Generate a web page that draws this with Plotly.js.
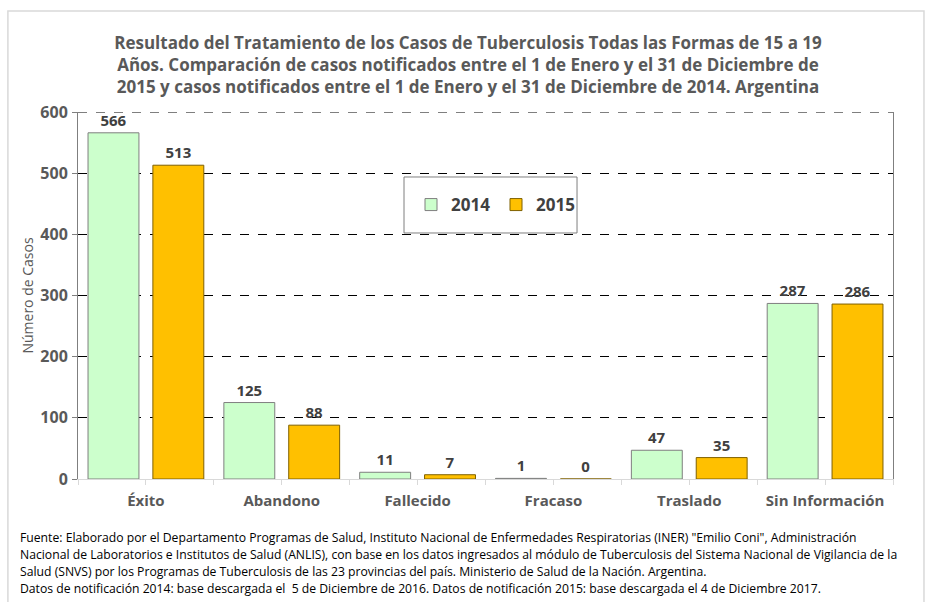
<!DOCTYPE html>
<html>
<head>
<meta charset="utf-8">
<script src="https://cdn.plot.ly/plotly-3.0.1.min.js"></script>
<style>
  body { margin: 0; background: #fff; }
  #plotArea { width: 936px; height: 602px; }
</style>
</head>
<body>
<div id="plotArea"></div>
<script>
var categories = ["Éxito", "Abandono", "Fallecido", "Fracaso", "Traslado", "Sin Información"];
var casos2014 = [566, 125, 11, 1, 47, 287];
var casos2015 = [513, 88, 7, 0, 35, 286];
var yTicks = [0, 100, 200, 300, 400, 500, 600];

var fuenteLines = [
    "Fuente: Elaborado por el Departamento Programas de Salud, Instituto Nacional de Enfermedades Respiratorias (INER) \"Emilio Coni\", Administración",
    "Nacional de Laboratorios e Institutos de Salud (ANLIS), con base en los datos ingresados al módulo de Tuberculosis del Sistema Nacional de Vigilancia de la",
    "Salud (SNVS) por los Programas de Tuberculosis de las 23 provincias del país. Ministerio de Salud de la Nación. Argentina.",
    "Datos de notificación 2014: base descargada el  5 de Diciembre de 2016. Datos de notificación 2015: base descargada el 4 de Diciembre 2017."
];

var font = "Open Sans, Liberation Sans, sans-serif";

var trace2014 = {
    x: categories,
    y: casos2014,
    name: "2014",
    type: "bar",
    marker: {color: "#CCFFCC", line: {color: "#7f7f7f", width: 1}},
    text: casos2014,
    textposition: "outside",
    cliponaxis: false,
    textfont: {family: font, size: 15, color: "#404040", weight: "bold"}
};

var trace2015 = {
    x: categories,
    y: casos2015,
    name: "2015",
    type: "bar",
    marker: {color: "#FFC000", line: {color: "#7f6000", width: 1}},
    text: casos2015,
    textposition: "outside",
    cliponaxis: false,
    textfont: {family: font, size: 15, color: "#404040", weight: "bold"}
};

// empty trace only to carry the tick axis (ticks at boundaries and centres)
var tickTrace = {x: [], y: [], xaxis: "x2", type: "scatter", showlegend: false, hoverinfo: "skip"};

// footer lines, 17 px apart
var footer = fuenteLines.map(function(line, i) {
    return {
        xref: "paper", yref: "paper",
        x: -0.074, y: (479 - 537 - i * 17) / 367,
        xanchor: "left", yanchor: "middle",
        align: "left",
        showarrow: false,
        font: {family: font, size: 12.2, color: "#000"},
        text: line
    };
});

var layout = {
    width: 936,
    height: 602,
    margin: {l: 78, r: 43, t: 112, b: 123},
    paper_bgcolor: "#fff",
    plot_bgcolor: "#fff",
    font: {family: font, color: "#595959"},
    title: {
        text: "Resultado del Tratamiento de los Casos de Tuberculosis Todas las Formas de 15 a 19<br>Años. Comparación de casos notificados entre el 1 de Enero y el 31 de Diciembre de<br>2015 y casos notificados entre el 1 de Enero y el 31 de Diciembre de 2014. Argentina",
        font: {family: font, size: 17, color: "#595959", weight: "bold"},
        x: 0.5,
        xanchor: "center",
        y: 1 - 49 / 602,
        yanchor: "middle"
    },
    barmode: "group",
    bargap: 0.045,
    bargroupgap: 0.215,
    xaxis: {
        showline: true,
        linecolor: "#d9d9d9",
        ticks: "",
        ticklabelstandoff: 8,
        tickfont: {family: font, size: 15, color: "#595959", weight: "bold"}
    },
    xaxis2: {
        overlaying: "x",
        side: "bottom",
        range: [-0.5, 5.5],
        tick0: -0.5,
        dtick: 0.5,
        ticks: "outside",
        tickcolor: "#d9d9d9",
        ticklen: 5,
        showticklabels: false,
        showgrid: false,
        zeroline: false,
        showline: false,
        fixedrange: true
    },
    yaxis: {
        range: [0, 600],
        tickvals: yTicks,
        showline: true,
        linecolor: "#7f7f7f",
        mirror: true,
        ticks: "outside",
        tickcolor: "#7f7f7f",
        ticklen: 5,
        ticklabelstandoff: 1,
        showgrid: true,
        gridcolor: "#000",
        griddash: "dash",
        gridwidth: 1,
        zeroline: false,
        tickfont: {family: font, size: 16, color: "#595959", weight: "bold"},
        title: {text: "Número de Casos", font: {family: font, size: 14, color: "#595959"}, standoff: 3}
    },
    legend: {
        orientation: "h",
        x: 0.4086,
        y: 0.7956,
        xanchor: "left",
        yanchor: "top",
        bgcolor: "rgba(0,0,0,0)",
        borderwidth: 0,
        font: {family: font, size: 17, color: "#404040", weight: "bold"},
        entrywidth: 40
    },
    shapes: [{
        type: "rect",
        xref: "paper", yref: "paper",
        x0: -0.086, x1: 1.038, y0: -0.34, y1: 1.275,
        line: {color: "#d9d9d9", width: 1.5},
        layer: "below"
    }, {
        type: "line",
        xref: "paper", yref: "y",
        x0: 0, x1: 1, y0: 600, y1: 600,
        line: {color: "#000", width: 1, dash: "dash"}
    }, {
        type: "rect",
        xref: "paper", yref: "paper",
        x0: 0.4, x1: 0.6123, y0: 0.6703, y1: 0.8229,
        fillcolor: "#fff",
        line: {color: "#7f7f7f", width: 1},
        layer: "above"
    }],
    annotations: footer
};

Plotly.newPlot("plotArea", [trace2014, trace2015, tickTrace], layout, {displayModeBar: false});
</script>
</body>
</html>
